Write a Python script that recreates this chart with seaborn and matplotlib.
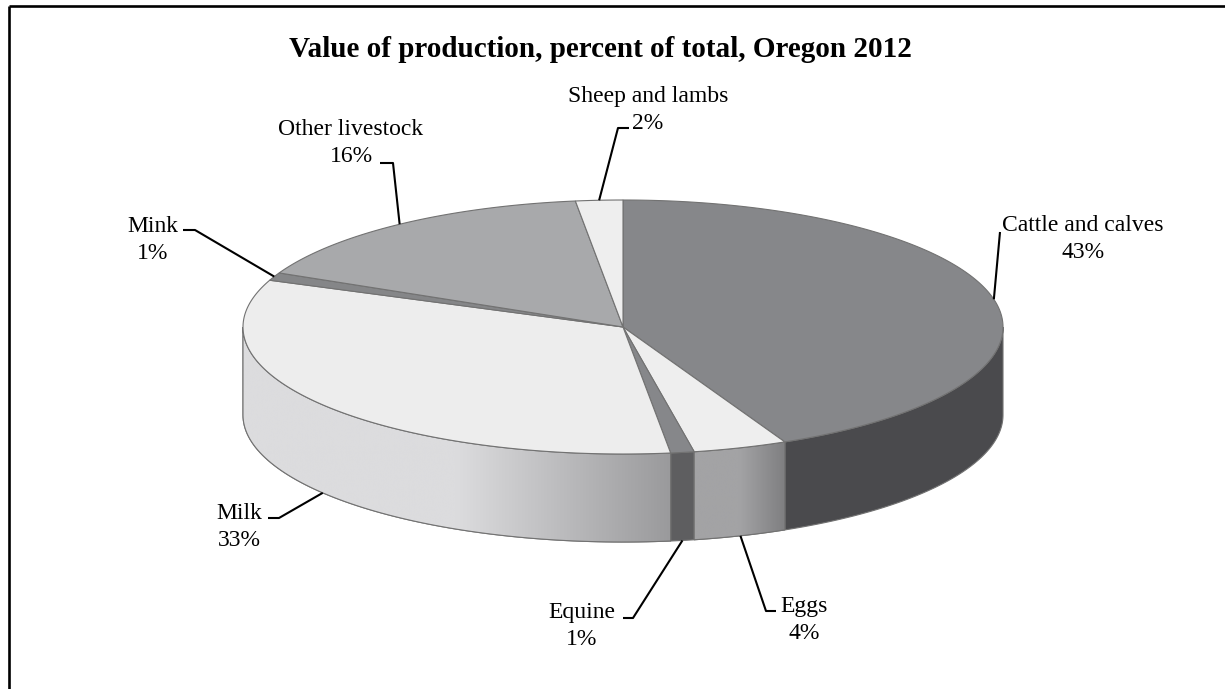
import numpy as np
import matplotlib
matplotlib.use("Agg")
import matplotlib.pyplot as plt
from matplotlib.patches import Polygon
import seaborn as sns

# Value of production by commodity, percent of total (Oregon 2012)
categories = ["Cattle and calves", "Eggs", "Equine", "Milk", "Mink",
              "Other livestock", "Sheep and lambs"]
shares = [43, 4, 1, 33, 1, 16, 2]
pct_labels = ["43%", "4%", "1%", "33%", "1%", "16%", "2%"]

title = "Value of production, percent of total, Oregon 2012"

sns.set_theme(style="white")
plt.rcParams["font.family"] = ["Liberation Serif", "DejaVu Serif"]

W, H = 1225, 689
fig = plt.figure(figsize=(W / 100, H / 100), dpi=100)
ax = fig.add_axes([0, 0, 1, 1])
ax.set_xlim(0, W)
ax.set_ylim(H, 0)
ax.axis("off")

# pie geometry (pixel space): ellipse centre, semi-axes and rim depth
cx, cy, ra, rb, depth = 623, 327, 380, 127, 88

# face styling per slice: top colour, side colours (left -> right)
top_colors = ["#86878a", "#eeeeee", "#86878a", "#ededed", "#858688",
              "#a8a9ab", "#eeeeee"]
side_colors = [("#4a4a4d", "#4a4a4d"), ("#a3a3a5", "#7f7f81"),
               ("#5e5e60", "#5e5e60"), ("#dcdcde", "#9a9a9c"),
               ("#5e5e60", "#5e5e60"), ("#6f7072", "#6f7072"),
               ("#b0b0b0", "#b0b0b0")]
edge = "#727272"


def rim(theta_deg, dy=0.0):
    th = np.radians(theta_deg)
    return cx + ra * np.sin(th), cy - rb * np.cos(th) + dy


fracs = np.array(shares, dtype=float) / np.sum(shares)
bounds = np.concatenate([[0.0], np.cumsum(fracs)]) * 360.0

# front rim faces (visible between 90 and 270 degrees clockwise from top)
for i in range(len(categories)):
    lo, hi = max(bounds[i], 90.0), min(bounds[i + 1], 270.0)
    if hi <= lo:
        continue
    th = np.linspace(lo, hi, 80)
    xt, yt = rim(th)
    xb, yb = rim(th[::-1], depth)
    verts = np.column_stack([np.concatenate([xt, xb]), np.concatenate([yt, yb])])
    c0, c1 = side_colors[i]
    poly = Polygon(verts, closed=True, facecolor=c0, edgecolor=edge,
                   linewidth=0.8, zorder=2)
    ax.add_patch(poly)
    if c0 != c1:
        cmap = sns.blend_palette([c0, c0, c1], as_cmap=True)
        grad = np.linspace(0, 1, 256)[None, :]
        x0, x1 = verts[:, 0].min(), verts[:, 0].max()
        y0, y1 = verts[:, 1].min(), verts[:, 1].max()
        im = ax.imshow(grad, cmap=cmap, extent=(x0, x1, y1, y0),
                       aspect="auto", interpolation="bicubic", zorder=2.5)
        im.set_clip_path(poly)
        ax.add_patch(Polygon(verts, closed=True, facecolor="none",
                             edgecolor=edge, linewidth=0.8, zorder=3))

# top faces
for i in range(len(categories)):
    th = np.linspace(bounds[i], bounds[i + 1], max(4, int(fracs[i] * 400)))
    xt, yt = rim(th)
    verts = np.column_stack([np.concatenate([[cx], xt]), np.concatenate([[cy], yt])])
    ax.add_patch(Polygon(verts, closed=True, facecolor=top_colors[i],
                         edgecolor=edge, linewidth=0.8, zorder=4))

# label placement: first-line centre/baseline, then leader bend points
label_pos = {
    "Cattle and calves": (1083, 231),
    "Eggs": (804, 612),
    "Equine": (582, 618),
    "Milk": (239, 519),
    "Mink": (153, 232),
    "Other livestock": (351, 135),
    "Sheep and lambs": (648, 102),
}
leader_path = {
    "Cattle and calves": [(1000, 232)],
    "Eggs": [(766, 611), (776, 611)],
    "Equine": [(633, 618), (623, 618)],
    "Milk": [(279, 518), (268, 518)],
    "Mink": [(195, 230), (183, 230)],
    "Other livestock": [(393, 163), (380, 163)],
    "Sheep and lambs": [(618, 128), (629, 128)],
}

for i, name in enumerate(categories):
    mid = (bounds[i] + bounds[i + 1]) / 2.0
    front = 90.0 < mid < 270.0
    ax_, ay_ = rim(mid, depth if front else 0.0)
    pts = [(ax_, ay_)] + leader_path[name]
    ax.plot([p[0] for p in pts], [p[1] for p in pts], color="black",
            lw=1.5, solid_capstyle="butt", zorder=5)
    tx, ty = label_pos[name]
    ax.text(tx, ty, name, ha="center", va="baseline", fontsize=17,
            color="black", zorder=6)
    ax.text(tx, ty + 27, pct_labels[i], ha="center", va="baseline",
            fontsize=17, color="black", zorder=6)

ax.text(600, 57, title, ha="center", va="baseline", fontsize=21,
        fontweight="bold", color="black")

# chart frame
ax.plot([8.5, W], [5.5, 5.5], color="black", lw=1.9, solid_capstyle="butt")
ax.plot([8.5, 8.5], [5.5, H], color="black", lw=1.9, solid_capstyle="butt")

fig.savefig("out.png", dpi=100, facecolor="white")
